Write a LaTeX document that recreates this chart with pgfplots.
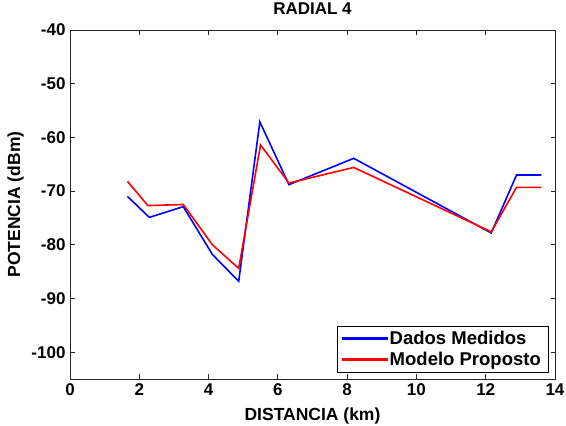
\documentclass[border=0pt]{standalone}
\usepackage{pgfplots}
\pgfplotsset{compat=1.18}
\usepackage{fontspec}
\setmainfont{Liberation Sans}

\pgfplotstableread{
x      y
1.66  -71.0
2.29  -74.9
3.27  -72.9
4.11  -81.8
4.87  -86.8
5.48  -57.1
6.32  -68.8
8.19  -63.9
12.16 -77.8
12.89 -67.0
13.61 -67.0
}\medidos

\pgfplotstableread{
x      y
1.66  -68.2
2.25  -72.7
3.27  -72.5
4.11  -80.0
4.87  -84.4
5.50  -61.4
6.32  -68.5
8.19  -65.6
12.16 -77.6
12.89 -69.3
13.61 -69.3
}\modelo

\begin{document}
\begin{tikzpicture}[x=1pt,y=1pt]
\useasboundingbox (0,0) rectangle (566,426);
\begin{axis}[
  at={(70pt,47pt)}, anchor=south west,
  scale only axis, width=485pt, height=349pt,
  xmin=0, xmax=14, ymin=-105, ymax=-40,
  xtick={0,2,...,14}, ytick={-100,-90,...,-40},
  tick align=inside, major tick length=4.5pt,
  axis line style={line width=0.9pt, black!85},
  tick style={line width=0.8pt, black!85},
  /pgf/number format/assume math mode=true,
  tick label style={font=\bfseries\fontsize{17}{18}\selectfont},
  xticklabel style={yshift=-1pt},
  yticklabel style={xshift=-1pt},
  title={RADIAL 4},
  title style={font=\bfseries\fontsize{17}{18}\selectfont, at={(axis description cs:0.5,1.028)}, anchor=base},
  xlabel={DISTANCIA (km)},
  xlabel style={font=\bfseries\fontsize{17.5}{19}\selectfont, at={(axis description cs:0.5,-0.12)}, anchor=base},
  ylabel={POTENCIA (dBm)},
  ylabel style={font=\bfseries\fontsize{17.5}{19}\selectfont, at={(axis description cs:-0.103,0.5)}, anchor=base},
  legend style={at={(axis description cs:0.9856,0.02)}, anchor=south east,
    draw=black, fill=white,
    font=\bfseries\fontsize{18.5}{20}\selectfont,
    inner xsep=5pt, inner ysep=3pt, row sep=2pt,
    nodes={inner sep=2pt}},
  legend cell align=left,
  legend image code/.code={\fill[#1] (2pt,-0.9pt) rectangle (46pt,0.9pt);},
]
\addplot[color=blue, line width=1.6pt] table[x=x,y=y] {\medidos};
\addlegendentry{Dados Medidos}
\addplot[color=red, line width=1.6pt] table[x=x,y=y] {\modelo};
\addlegendentry{Modelo Proposto}
\end{axis}
\end{tikzpicture}
\end{document}
